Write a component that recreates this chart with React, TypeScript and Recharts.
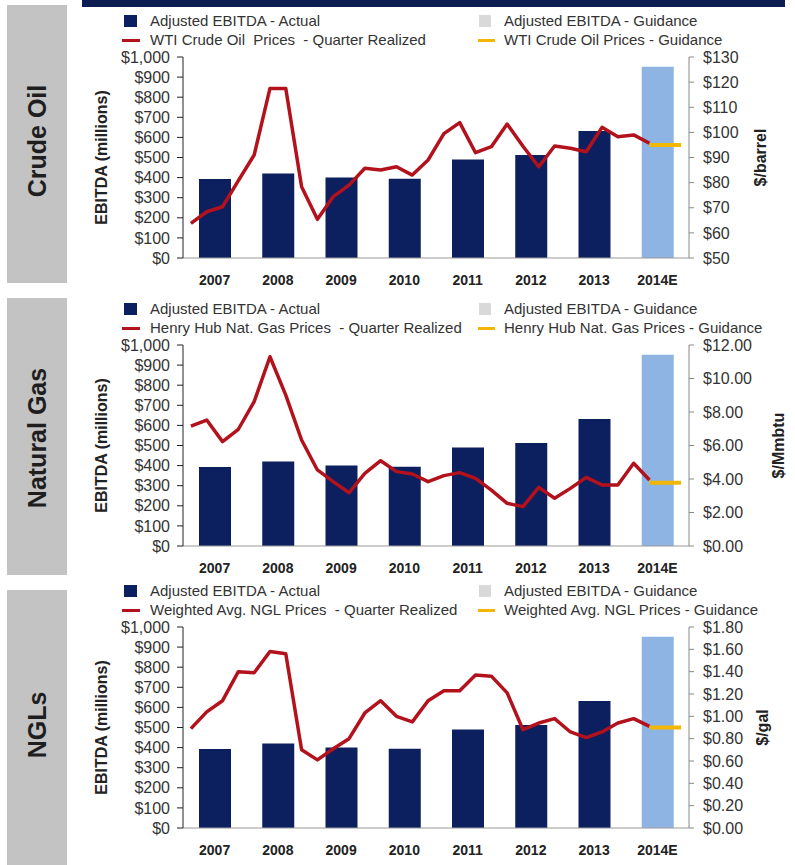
import { ComposedChart, Bar, Line, XAxis, YAxis, Label } from "recharts";

const YEARS = ["2007", "2008", "2009", "2010", "2011", "2012", "2013", "2014E"];
const EBITDA_ACTUAL = [393, 420, 400, 394, 490, 512, 632];
const EBITDA_GUIDANCE = 951;
const LEFT_TICKS = [0, 100, 200, 300, 400, 500, 600, 700, 800, 900, 1000];

// quarterly realized prices, 2007 Q1 .. 2014 Q2
const WTI = [
  63.8, 68.4, 70.4, 80.8, 91.0, 117.5, 117.5, 78.4, 65.4, 74.4, 79.0, 85.7,
  85.0, 86.3, 83.0, 89.0, 99.5, 103.9, 91.9, 94.3, 103.3, 94.5, 86.3, 94.6,
  93.7, 92.3, 102.0, 98.3, 99.0, 95.7,
];
const HENRY_HUB = [
  7.16, 7.52, 6.23, 6.97, 8.62, 11.3, 9.01, 6.33, 4.54, 3.84, 3.18, 4.34,
  5.09, 4.44, 4.3, 3.84, 4.2, 4.38, 4.04, 3.34, 2.55, 2.35, 3.5, 2.85,
  3.44, 4.1, 3.64, 3.64, 4.94, 3.94,
];
const NGL = [
  0.89, 1.04, 1.14, 1.4, 1.39, 1.58, 1.56, 0.7, 0.61, 0.71, 0.8, 1.03,
  1.14, 1.0, 0.95, 1.14, 1.23, 1.23, 1.37, 1.36, 1.21, 0.88, 0.94, 0.98,
  0.86, 0.81, 0.86, 0.94, 0.98, 0.91,
];
const WTI_GUIDANCE = 95;
const HENRY_HUB_GUIDANCE = 3.78;
const NGL_GUIDANCE = 0.9;
// guidance drawn over 2014 Q2..Q4
const GUIDANCE_QUARTERS = [29, 30, 31];

const WTI_TICKS = [50, 60, 70, 80, 90, 100, 110, 120, 130];
const GAS_TICKS = [0, 2, 4, 6, 8, 10, 12];
const NGL_TICKS = [0, 0.2, 0.4, 0.6, 0.8, 1.0, 1.2, 1.4, 1.6, 1.8];

const NAVY = "#0c1f5e";
const LIGHT_BLUE = "#8db4e2";
const RED = "#b3121c";
const GOLD = "#f2b705";
const FONT = '"Liberation Sans", Arial, sans-serif';

const barRows = YEARS.map((year, i) => ({
  year,
  actual: i < EBITDA_ACTUAL.length ? EBITDA_ACTUAL[i] : 0,
  guidance: i === YEARS.length - 1 ? EBITDA_GUIDANCE : 0,
}));

const toQuarterRows = (prices: number[]) =>
  prices.map((p, i) => ({ t: i / 4 + 0.125, p }));
const toGuideRows = (g: number) =>
  GUIDANCE_QUARTERS.map((q) => ({ t: q / 4 + 0.125, p: g }));

type PanelProps = {
  plotTop: number;
  prices: number[];
  guidance: number;
  rightTicks: number[];
  rightFormat: (v: number) => string;
  unit: string;
  unitDx: number;
  lineLabel: string;
  guideLabel: string;
};

function LegendBlock({ top, lineLabel, guideLabel }: any) {
  const r1 = top - 36;
  const r2 = top - 17;
  const text: any = {
    position: "absolute",
    fontSize: 15,
    color: "#333",
    whiteSpace: "pre",
    lineHeight: "18px",
  };
  return (
    <>
      <div style={{ position: "absolute", left: 124, top: r1 - 6, width: 13, height: 12, background: NAVY }} />
      <div style={{ ...text, left: 150, top: r1 - 9 }}>Adjusted EBITDA - Actual</div>
      <div style={{ position: "absolute", left: 122, top: r2 - 1, width: 18, height: 2.5, background: RED }} />
      <div style={{ ...text, left: 150, top: r2 - 9 }}>{lineLabel}</div>
      <div style={{ position: "absolute", left: 479, top: r1 - 6, width: 12, height: 12, background: "#d9d9d9" }} />
      <div style={{ ...text, left: 504, top: r1 - 9 }}>Adjusted EBITDA - Guidance</div>
      <div style={{ position: "absolute", left: 478, top: r2 - 1, width: 17, height: 3, background: GOLD }} />
      <div style={{ ...text, left: 504, top: r2 - 9 }}>{guideLabel}</div>
    </>
  );
}

function Panel(props: PanelProps) {
  const { plotTop, prices, guidance, rightTicks, rightFormat, unit, unitDx } = props;
  return (
    <>
      <LegendBlock top={plotTop} lineLabel={props.lineLabel} guideLabel={props.guideLabel} />
      <div style={{ position: "absolute", left: 0, top: plotTop - 10 }}>
        <ComposedChart
          width={795}
          height={241}
          data={barRows}
          margin={{ top: 10, right: 10, bottom: 0, left: 90 }}
        >
          <XAxis
            xAxisId="cat"
            dataKey="year"
            type="category"
            interval={0}
            height={30}
            axisLine={{ stroke: "#999" }}
            tickLine={false}
            tickMargin={11}
            tick={{ fontSize: 14, fontWeight: 700, fill: "#222" }}
          />
          <XAxis xAxisId="q" dataKey="t" type="number" domain={[0, 8]} hide allowDataOverflow />
          <YAxis
            yAxisId="left"
            orientation="left"
            width={93}
            domain={[0, 1000]}
            ticks={LEFT_TICKS}
            interval={0}
            tickFormatter={(v: number) => "$" + v.toLocaleString("en-US")}
            axisLine={{ stroke: "#222" }}
            tickLine={{ stroke: "#222" }}
            tickSize={6}
            tickMargin={7}
            tick={{ fontSize: 16, fill: "#333" }}
          >
            <Label
              value="EBITDA (millions)"
              angle={-90}
              position="center"
              dx={-35}
              style={{ fontSize: 16, fontWeight: 700, fill: "#222" }}
            />
          </YAxis>
          <YAxis
            yAxisId="right"
            orientation="right"
            width={96}
            domain={[rightTicks[0], rightTicks[rightTicks.length - 1]]}
            ticks={rightTicks}
            interval={0}
            tickFormatter={rightFormat}
            axisLine={{ stroke: "#888" }}
            tickLine={{ stroke: "#888" }}
            tickSize={5}
            tickMargin={9}
            tick={{ fontSize: 16, fill: "#333" }}
          >
            <Label
              value={unit}
              angle={-90}
              position="center"
              dx={unitDx}
              style={{ fontSize: 16, fontWeight: 700, fill: "#222" }}
            />
          </YAxis>
          <Bar xAxisId="cat" yAxisId="left" dataKey="actual" stackId="e" fill={NAVY} barSize={32} isAnimationActive={false} />
          <Bar xAxisId="cat" yAxisId="left" dataKey="guidance" stackId="e" fill={LIGHT_BLUE} barSize={32} isAnimationActive={false} />
          <Line
            xAxisId="q"
            yAxisId="right"
            data={toQuarterRows(prices)}
            dataKey="p"
            type="linear"
            stroke={RED}
            strokeWidth={3.5}
            strokeLinejoin="round"
            dot={false}
            isAnimationActive={false}
          />
          <Line
            xAxisId="q"
            yAxisId="right"
            data={toGuideRows(guidance)}
            dataKey="p"
            type="linear"
            stroke={GOLD}
            strokeWidth={4}
            dot={false}
            isAnimationActive={false}
          />
        </ComposedChart>
      </div>
    </>
  );
}

const sideLabel = (text: string, y: number) => (
  <div
    style={{
      position: "absolute",
      left: 37,
      top: y,
      transform: "translate(-50%, -50%) rotate(-90deg)",
      fontSize: 25,
      fontWeight: 700,
      color: "#1e1e1e",
      whiteSpace: "nowrap",
    }}
  >
    {text}
  </div>
);

export default function App() {
  return (
    <div
      style={{
        position: "absolute",
        left: 0,
        top: 0,
        width: 795,
        height: 865,
        overflow: "hidden",
        background: "#fff",
        fontFamily: FONT,
      }}
    >
      <div style={{ position: "absolute", left: 82, top: 0, width: 703, height: 7, background: "#0b1d51" }} />
      <div style={{ position: "absolute", left: 7, top: 5, width: 60, height: 278, background: "#c3c3c3" }} />
      <div style={{ position: "absolute", left: 7, top: 298, width: 60, height: 277, background: "#c3c3c3" }} />
      <div style={{ position: "absolute", left: 7, top: 590, width: 60, height: 280, background: "#c3c3c3" }} />
      {sideLabel("Crude Oil", 141)}
      {sideLabel("Natural Gas", 438)}
      {sideLabel("NGLs", 725)}

      <Panel
        plotTop={57}
        prices={WTI}
        guidance={WTI_GUIDANCE}
        rightTicks={WTI_TICKS}
        rightFormat={(v) => "$" + v}
        unit="$/barrel"
        unitDx={23}
        lineLabel="WTI Crude Oil  Prices  - Quarter Realized"
        guideLabel="WTI Crude Oil Prices - Guidance"
      />
      <Panel
        plotTop={345}
        prices={HENRY_HUB}
        guidance={HENRY_HUB_GUIDANCE}
        rightTicks={GAS_TICKS}
        rightFormat={(v) => "$" + v.toFixed(2)}
        unit="$/Mmbtu"
        unitDx={41}
        lineLabel="Henry Hub Nat. Gas Prices  - Quarter Realized"
        guideLabel="Henry Hub Nat. Gas Prices - Guidance"
      />
      <Panel
        plotTop={627}
        prices={NGL}
        guidance={NGL_GUIDANCE}
        rightTicks={NGL_TICKS}
        rightFormat={(v) => "$" + v.toFixed(2)}
        unit="$/gal"
        unitDx={25}
        lineLabel="Weighted Avg. NGL Prices  - Quarter Realized"
        guideLabel="Weighted Avg. NGL Prices - Guidance"
      />
    </div>
  );
}
